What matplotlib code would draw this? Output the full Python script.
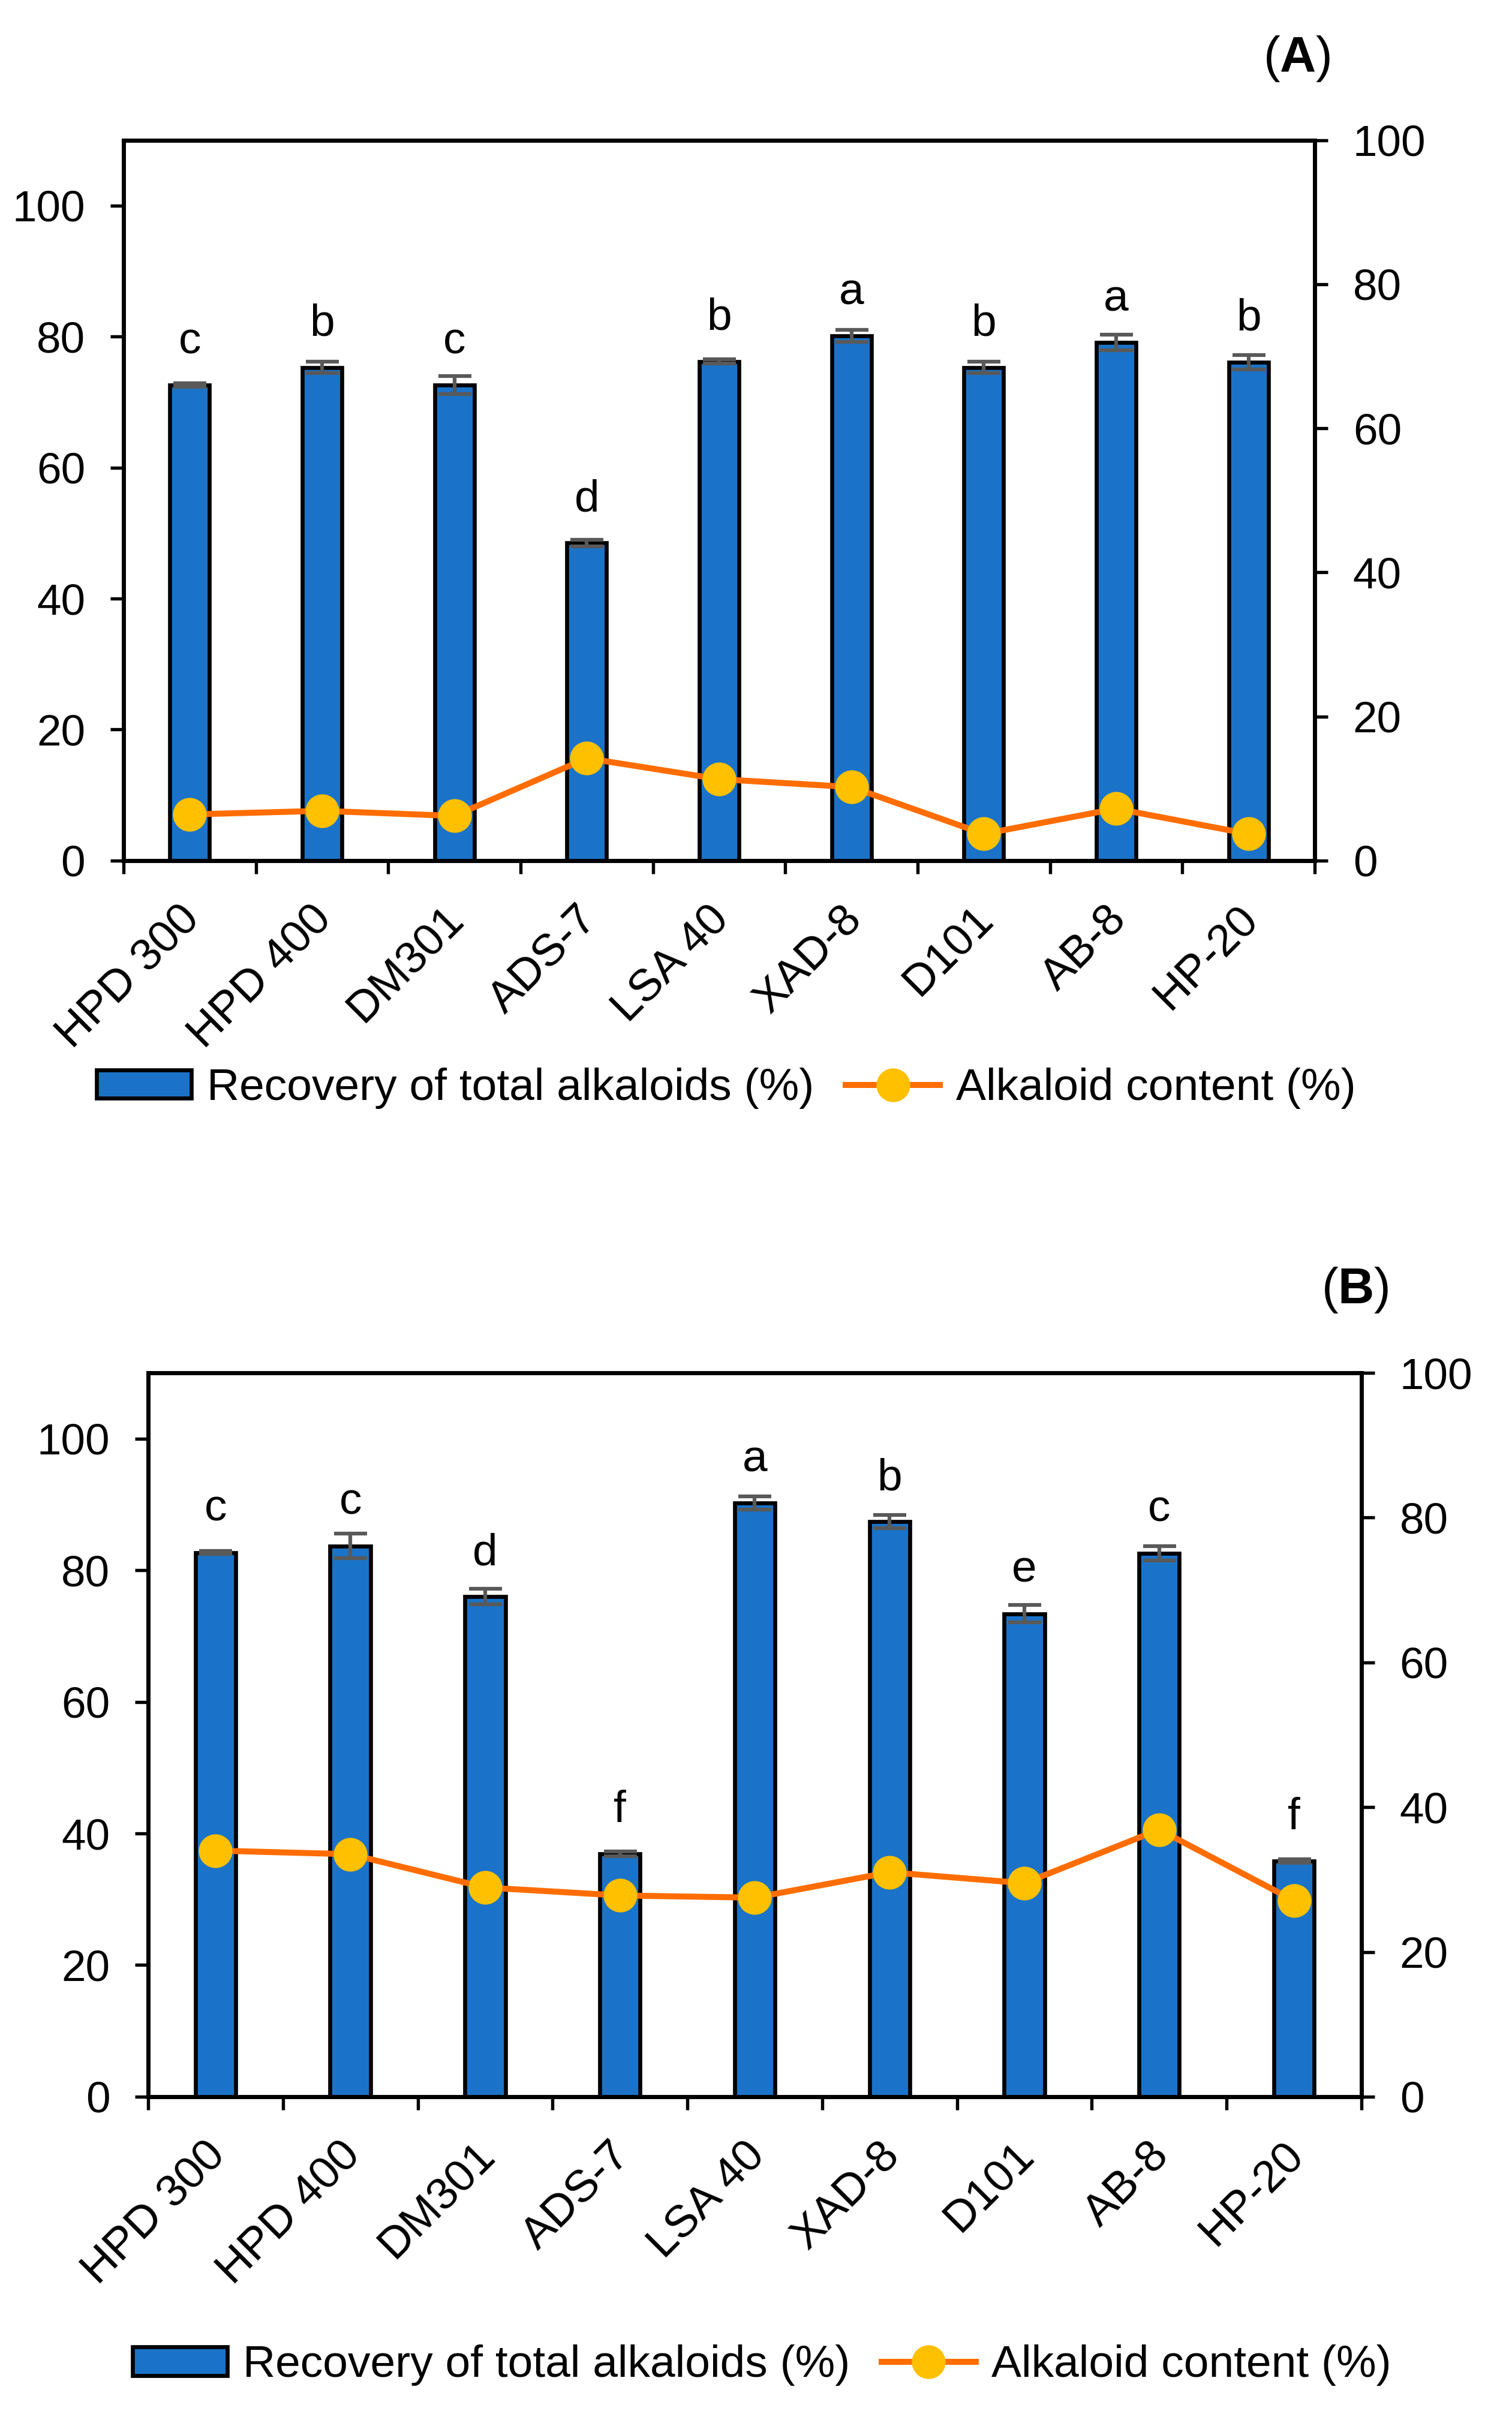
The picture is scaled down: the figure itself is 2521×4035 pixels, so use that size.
import numpy as np
import matplotlib
matplotlib.use("Agg")
import matplotlib.pyplot as plt
from matplotlib.transforms import ScaledTranslation

plt.rcParams['font.family'] = ['Liberation Sans', 'DejaVu Sans']
plt.rcParams['mathtext.fontset'] = 'custom'
plt.rcParams['mathtext.rm'] = 'Liberation Sans'
plt.rcParams['mathtext.bf'] = 'Liberation Sans:bold'

resins = ["HPD 300", "HPD 400", "DM301", "ADS-7", "LSA 40", "XAD-8", "D101", "AB-8", "HP-20"]

# panel A
rec_a = [72.6, 75.3, 72.6, 48.5, 76.2, 80.1, 75.3, 79.1, 76.1]
rec_a_err = [0.3, 0.9, 1.4, 0.5, 0.3, 0.9, 0.9, 1.2, 1.1]
cont_a = [6.4, 6.9, 6.2, 14.2, 11.3, 10.2, 3.7, 7.2, 3.7]
letters_a = ["c", "b", "c", "d", "b", "a", "b", "a", "b"]

# panel B
rec_b = [82.7, 83.7, 76.0, 36.9, 90.2, 87.4, 73.4, 82.6, 35.8]
rec_b_err = [0.2, 1.9, 1.2, 0.4, 1.0, 1.0, 1.3, 1.1, 0.3]
cont_b = [34.0, 33.5, 28.9, 27.8, 27.5, 31.0, 29.5, 36.9, 27.1]
letters_b = ["c", "c", "d", "f", "a", "b", "e", "c", "f"]

BAR = "#1a73c8"
LINE = "#ff6d00"
DOT = "#ffc000"
FS = 17.5

fig = plt.figure(figsize=(2521 / 300, 4035 / 300), dpi=300)


def panel(rect, rec, err, cont, letters, tag, tag_xy, leg_y):
    ax = fig.add_axes(rect)
    x = np.arange(len(resins))
    bars = ax.bar(x, rec, 0.3, color=BAR, edgecolor="black", linewidth=1.6,
                  label="Recovery of total alkaloids (%)", zorder=2)
    ax.errorbar(x, rec, yerr=err, fmt="none", ecolor="#595959", elinewidth=1.5,
                capsize=6.6, capthick=1.5, zorder=3)
    for xi, v, l in zip(x, rec, letters):
        ax.annotate(l, (xi, v), xytext=(0, 12.7), textcoords="offset points",
                    ha="center", va="baseline", fontsize=18)

    ax.set_xlim(-0.5, 8.5)
    ax.set_ylim(0, 110)
    ax.set_yticks(range(0, 101, 20))
    ax.set_xticks(x)
    ax.set_xticklabels(resins, rotation=45, ha="right", rotation_mode="anchor")
    ax.set_xticks(np.arange(-0.5, 9, 1), minor=True)
    ax.tick_params(axis="x", which="major", length=0, pad=15, labelsize=FS + 0.5)
    ax.tick_params(axis="x", which="minor", length=5.3, width=1.3, direction="out")
    ax.tick_params(axis="y", length=5.3, width=1.3, pad=10, labelsize=FS)
    shift = ScaledTranslation(-19 / 300, 0, fig.dpi_scale_trans)
    for lab in ax.get_xticklabels():
        lab.set_transform(lab.get_transform() + shift)

    ax2 = ax.twinx()
    line, = ax2.plot(x, cont, color=LINE, lw=2.4, marker="o", ms=12.5,
                     mfc=DOT, mec=DOT, label="Alkaloid content (%)", zorder=4)
    ax2.set_ylim(0, 100)
    ax2.set_yticks(range(0, 101, 20))
    ax2.tick_params(axis="y", length=5.3, width=1.3, pad=10, labelsize=FS)
    for a in (ax, ax2):
        for s in a.spines.values():
            s.set_linewidth(1.6)

    ax2.legend([bars, line], [bars.get_label(), line.get_label()],
               loc="center", bbox_to_anchor=(0.506, leg_y), ncol=2,
               frameon=False, fontsize=18, handlelength=2.1, handleheight=0.6,
               handletextpad=0.35, columnspacing=0.7)

    fig.text(tag_xy[0], tag_xy[1], "(" + r"$\mathbf{" + tag + "}$" + ")",
             ha="right", va="baseline", fontsize=20)
    return ax


panel([0.0817, 0.6444, 0.7878, 0.2977], rec_a, rec_a_err, cont_a, letters_a,
      "A", (0.880, 0.9703), -0.316)
panel([0.0980, 0.1336, 0.8024, 0.2991], rec_b, rec_b_err, cont_b, letters_b,
      "B", (0.9187, 0.4615), -0.371)

fig.savefig("out.png", dpi=300)
